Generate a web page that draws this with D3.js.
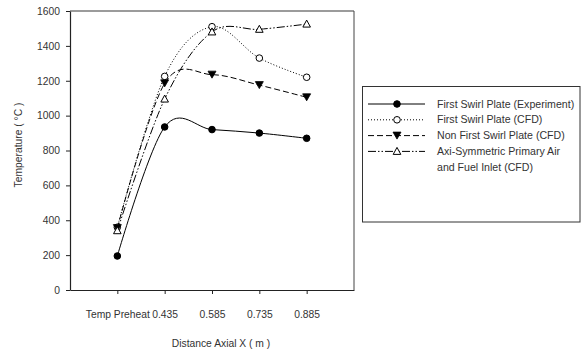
<!DOCTYPE html>
<html>
<head>
<meta charset="utf-8">
<script src="https://cdn.jsdelivr.net/npm/d3@7"></script>
<style>
  body { margin: 0; background: #fff; }
  svg { display: block; font-family: "Liberation Sans", Arial, sans-serif; }
</style>
</head>
<body>
<svg id="chart" width="581" height="353"></svg>
<script>
// categories along the x axis (positions 1..5 on a 0..6 scale)
const categories = ["Temp Preheat", "0.435", "0.585", "0.735", "0.885"];
const yTicks = [0, 200, 400, 600, 800, 1000, 1200, 1400, 1600];

// series values
const expValues = [195, 935, 920, 900, 870];
const cfdValues = [360, 1225, 1510, 1330, 1220];
const nonSwirlValues = [355, 1185, 1235, 1175, 1105];
const axiValues = [340, 1095, 1480, 1495, 1525];

const series = [
  { name: ["First Swirl Plate (Experiment)"], values: expValues, dash: null, marker: "circle", fill: "#000" },
  { name: ["First Swirl Plate (CFD)"], values: cfdValues, dash: "1,2", marker: "circle", fill: "#fff" },
  { name: ["Non First Swirl Plate (CFD)"], values: nonSwirlValues, dash: "6,3", marker: "down", fill: "#000" },
  { name: ["Axi-Symmetric Primary Air", "and Fuel Inlet (CFD)"], values: axiValues, dash: "8,2,1.5,2,1.5,2", marker: "up", fill: "#fff" }
];

const svg = d3.select("#chart");

const x = d3.scaleLinear().domain([0, 6]).range([70, 354]);
const y = d3.scaleLinear().domain([0, 1600]).range([290, 11]);

// --------------------------------------------------
// FRAME + AXES
// --------------------------------------------------

svg.append("line")
  .attr("x1", x(0)).attr("x2", x(6))
  .attr("y1", y(1600)).attr("y2", y(1600))
  .attr("stroke", "#7a7a7a").attr("stroke-width", 1.5);

svg.append("line")
  .attr("x1", x(6)).attr("x2", x(6))
  .attr("y1", y(1600)).attr("y2", y(0))
  .attr("stroke", "#444").attr("stroke-width", 1);

const yAxis = svg.append("g")
  .attr("transform", `translate(${x(0)},0)`)
  .call(d3.axisLeft(y).tickValues(yTicks).tickFormat(d3.format("d"))
    .tickSize(4).tickSizeOuter(0).tickPadding(6));

const xAxis = svg.append("g")
  .attr("transform", `translate(0,${y(0)})`)
  .call(d3.axisBottom(x).tickValues([1, 2, 3, 4, 5]).tickSize(4).tickSizeOuter(0)
    .tickFormat((d) => categories[d - 1]).tickPadding(17));

[yAxis, xAxis].forEach(a => {
  a.select(".domain").attr("stroke", "#222").attr("stroke-width", 1.2);
  a.selectAll(".tick line").attr("stroke", "#222");
  a.selectAll(".tick text").attr("fill", "#333").style("font-size", "10.3px")
    .style("font-family", "'Liberation Sans', Arial, sans-serif");
});

svg.append("text")
  .attr("transform", "translate(22,145) rotate(-90)")
  .attr("text-anchor", "middle")
  .attr("fill", "#333")
  .style("font-size", "10.3px")
  .text("Temperature ( °C )");

svg.append("text")
  .attr("x", 221).attr("y", 347)
  .attr("text-anchor", "middle")
  .attr("fill", "#333")
  .style("font-size", "10.3px")
  .text("Distance Axial X ( m )");

// --------------------------------------------------
// LINES + MARKERS
// --------------------------------------------------

const line = d3.line()
  .x((d, i) => x(i + 1))
  .y(d => y(d))
  .curve(d3.curveCardinal.tension(0));

function drawMarker(g, type, fill, cx, cy) {
  if (type === "circle") {
    g.append("circle").attr("cx", cx).attr("cy", cy).attr("r", 3.3)
      .attr("fill", fill).attr("stroke", "#000").attr("stroke-width", 1);
  } else if (type === "down") {
    g.append("path")
      .attr("d", `M${cx - 4},${cy - 3.5}L${cx + 4},${cy - 3.5}L${cx},${cy + 3.5}Z`)
      .attr("fill", fill).attr("stroke", "#000").attr("stroke-width", 0.8);
  } else {
    g.append("path")
      .attr("d", `M${cx},${cy - 4}L${cx + 3.8},${cy + 3}L${cx - 3.8},${cy + 3}Z`)
      .attr("fill", fill).attr("stroke", "#000").attr("stroke-width", 1);
  }
}

series.forEach(s => {
  svg.append("path")
    .attr("d", line(s.values))
    .attr("fill", "none")
    .attr("stroke", "#000")
    .attr("stroke-width", 1)
    .attr("stroke-dasharray", s.dash);
});

series.forEach(s => {
  const g = svg.append("g");
  s.values.forEach((v, i) => drawMarker(g, s.marker, s.fill, x(i + 1), y(v)));
});

// --------------------------------------------------
// LEGEND
// --------------------------------------------------

const legend = svg.append("g");

legend.append("rect")
  .attr("x", 362.5).attr("y", 86.5)
  .attr("width", 217.5).attr("height", 135.5)
  .attr("fill", "#fff").attr("stroke", "#333").attr("stroke-width", 1);

series.forEach((s, i) => {
  const ry = 104 + i * 15.8;
  legend.append("line")
    .attr("x1", 368).attr("x2", 425)
    .attr("y1", ry).attr("y2", ry)
    .attr("stroke", "#000").attr("stroke-width", 1)
    .attr("stroke-dasharray", s.dash);
  drawMarker(legend, s.marker, s.fill, 397, ry);
  s.name.forEach((t, j) => {
    legend.append("text")
      .attr("x", 437).attr("y", ry + 3.5 + j * 15.8)
      .attr("fill", "#333")
      .style("font-size", "10.6px")
      .text(t);
  });
});
</script>
</body>
</html>
